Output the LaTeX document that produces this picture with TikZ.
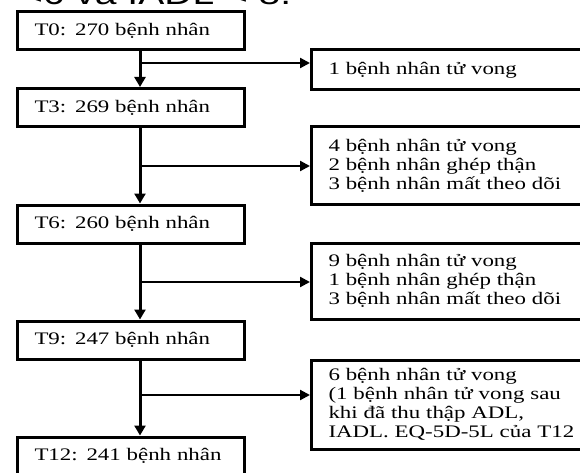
\documentclass[tikz,border=0pt]{standalone}
\usepackage{fontspec}
\setmainfont[FakeStretch=1.3]{Liberation Serif}
\newfontfamily\headfont[FakeStretch=1.3]{Liberation Sans}
\usetikzlibrary{arrows.meta,positioning}

\begin{document}
\begin{tikzpicture}[x=1pt,y=-1pt,node distance=116pt,on grid,
  stage/.style={draw,line width=3pt,minimum width=227pt,minimum height=38pt,
    text width=192pt,inner xsep=17pt,align=left,font=\fontsize{17.6}{19}\selectfont},
  loss/.style={draw,line width=3pt,text width=262pt,inner xsep=17pt,
    align=left,anchor=west,font=\fontsize{17.6}{19}\selectfont},
  trunk/.style={line width=3pt,-{Triangle[length=10pt,width=11pt]}},
  branch/.style={line width=2.2pt,-{Triangle[length=10pt,width=10pt]}}]
  \useasboundingbox (0,0) rectangle (580,473);
  \clip (0,0) rectangle (580,473);
  % cut-off line of text above the chart
  \node[anchor=base west,inner sep=0pt,font=\headfont\fontsize{30}{32}\selectfont] (note) at (20,4.5) {<6 và IADL < 8.};
  % Stages
  \node[stage] (t0) at (130.5,31) {T0: 270 bệnh nhân};
  \node[stage] (t3) [below=76.5pt of t0] {T3: 269 bệnh nhân};
  \node[stage] (t6) [below=116.5pt of t3] {T6: 260 bệnh nhân};
  \node[stage] (t9) [below=of t6] {T9: 247 bệnh nhân};
  \node[stage] (t12) [below=of t9] {T12: 241 bệnh nhân};
  % Losses
  \node[loss,minimum height=40pt] (r1) at (310,70) {1 bệnh nhân tử vong};
  \node[loss,minimum height=77pt] (r2) at (310,165.5) {4 bệnh nhân tử vong\\2 bệnh nhân ghép thận\\3 bệnh nhân mất theo dõi};
  \node[loss,minimum height=76pt] (r3) at (310,281) {9 bệnh nhân tử vong\\1 bệnh nhân ghép thận\\3 bệnh nhân mất theo dõi};
  \node[loss,minimum height=89pt] (r4) at (310,404.5) {6 bệnh nhân tử vong\\(1 bệnh nhân tử vong sau\\khi đã thu thập ADL,\\IADL. EQ-5D-5L của T12};
  % Junctions on the spine
  \coordinate (sp) at (140,0);
  \coordinate (j1) at (140,63);
  \coordinate (j2) at (140,166);
  \coordinate (j3) at (140,282);
  \coordinate (j4) at (140,395);
  % Flow
  \draw[trunk] (t0.south -| sp) -- (t3.north -| sp);
  \draw[trunk] (t3.south -| sp) -- (t6.north -| sp);
  \draw[trunk] (t6.south -| sp) -- (t9.north -| sp);
  \draw[trunk] (t9.south -| sp) -- (t12.north -| sp);
  \draw[branch] (j1) -- (j1 -| r1.west);
  \draw[branch] (j2) -- (j2 -| r2.west);
  \draw[branch] (j3) -- (j3 -| r3.west);
  \draw[branch] (j4) -- (j4 -| r4.west);
\end{tikzpicture}
\end{document}
